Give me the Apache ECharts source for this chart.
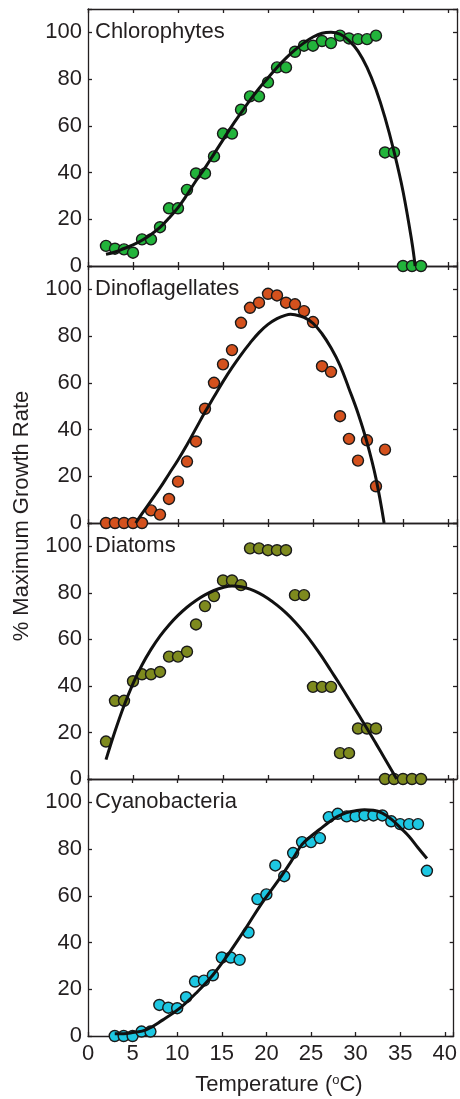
<!DOCTYPE html>
<html>
<head>
<meta charset="utf-8">
<title>Growth rate vs temperature</title>
<script src="https://cdn.jsdelivr.net/npm/echarts@6/dist/echarts.min.js"></script>
<style>
  html, body { margin: 0; padding: 0; background: #fff; }
  #chart { width: 460px; height: 1099px; }
</style>
</head>
<body>
<div id="chart"></div>
<script>
// ---- data ----
const panelNames = ['Chlorophytes', 'Dinoflagellates', 'Diatoms', 'Cyanobacteria'];

const chloroTemp = [2,3,4,5,6,7,8,9,10,11,12,13,14,15,16,17,18,19,20,21,22,23,24,25,26,27,28,29,30,31,32,33,34,35,36,37];
const chloroRate = [8.6,7.4,7.1,5.7,11.4,11.4,16.6,24.7,24.7,32.6,39.6,39.6,46.9,56.7,56.7,66.9,72.6,72.6,78.6,85,85,91.7,94.3,94.3,96.3,95.4,98.6,97.4,97.1,97.1,98.6,48.6,48.6,0,0,0];
const chloroFit = [[2,5],[3,6],[4,7.5],[5,9],[6,11],[7,13.5],[8,16.5],[9,20.5],[10,25],[11,30.5],[12,36.5],[13,42],[14,48],[15,54],[16,60],[17,65.5],[18,71],[19,76],[20,80.5],[21,85],[22,89],[23,92.5],[24,95.5],[25,98],[26,99.6],[27,100],[28,99.2],[29,96.5],[30,92],[31,85],[32,75.5],[33,63.5],[34,49],[35,32],[36,10],[36.35,0]];

const dinoTemp = [2,3,4,5,6,7,8,9,10,11,12,13,14,15,16,17,18,19,20,21,22,23,24,25,26,27,28,29,30,31,32,33];
const dinoRate = [0,0,0,0,0,5.4,3.6,10.3,17.7,26.3,34.9,48.9,60,67.9,74,85.7,92.1,94.3,98.1,97.4,94.3,93.6,90.7,86,67.1,64.7,45.7,36,26.7,35.4,15.7,31.4];
const dinoFit = [[5.3,0],[6,4],[7,9.5],[8,15],[9,21],[10,27],[11,33.5],[12,40.5],[13,47.5],[14,54],[15,60.5],[16,66.5],[17,72],[18,77],[19,81.5],[20,85],[21,87.5],[22,89],[22.5,89.3],[23,89.1],[24,88],[25,85.5],[26,81],[27,75],[28,67.5],[29,57.5],[30,47],[31,34.5],[32,19],[32.9,0]];

const diatomTemp = [2,3,4,5,6,7,8,9,10,11,12,13,14,15,16,17,18,19,20,21,22,23,24,25,26,27,28,29,30,31,32,33,34,35,36,37];
const diatomRate = [16.1,33.6,33.6,42,45,45,46,52.6,52.6,54.7,66.4,74.3,78.6,85.3,85.3,83.3,99.1,99.1,98.3,98.3,98.3,79,79,39.6,39.6,39.6,11.1,11.1,21.7,21.7,21.7,0,0,0,0,0];
const diatomFit = [[2,8.3],[3,20.5],[4,31.5],[5,41],[6,49],[7,55.7],[8,61.4],[9,66.2],[10,70.3],[11,73.8],[12,76.7],[13,79.1],[14,81],[15,82.3],[16,82.9],[17,82.6],[18,81.6],[19,79.9],[20,77.6],[21,74.7],[22,71.4],[23,67.5],[24,63],[25,58],[26,52.5],[27,46.5],[28,40.5],[29,34.3],[30,28],[31,21.7],[32,15.2],[33,8.6],[34.3,0]];

const cyanoTemp = [3,4,5,6,7,8,9,10,11,12,13,14,15,16,17,18,19,20,21,22,23,24,25,26,27,28,29,30,31,32,33,34,35,36,37,38];
const cyanoRate = [0,0,0,1.9,1.9,13.3,12.1,11.9,16.6,23.3,23.7,26,33.6,33.6,32.6,44.3,58.6,60.6,73,68.4,78.3,83,83,84.7,93.7,95.1,94,94,94.4,94.4,94.4,91.9,90.7,90.7,90.7,70.7];
const cyanoFit = [[3,1],[4,1],[5,1.5],[6.5,2.6],[8.4,6.9],[10.3,11.9],[12.1,18.3],[14,26.1],[15.8,35.4],[17.7,46.2],[19.5,56.9],[21.4,66.9],[23,76],[24,82],[25,85.5],[26,88.5],[27,91.5],[28,94],[29,95.6],[30,96.4],[31,96.8],[32,96.6],[33,95.4],[34,92.8],[35,89.2],[36,85.4],[37,80.6],[38,76]];

const panelTemps = [chloroTemp, dinoTemp, diatomTemp, cyanoTemp];
const panelRates = [chloroRate, dinoRate, diatomRate, cyanoRate];
const panelFits = [chloroFit, dinoFit, diatomFit, cyanoFit];
const panelColors = ['#22b43b', '#d4511d', '#7e8a1e', '#1dc7e2'];

// ---- layout ----
const FONT = 'Liberation Sans, Arial, Helvetica, sans-serif';
const INK = '#231f20';
const gridLeft = 88;
const gridWidth = 369;
const gridTops = [9, 266, 523, 779];
const gridHeights = [257, 257, 256, 257];

const chart = echarts.init(document.getElementById('chart'), null, { renderer: 'canvas' });

const axisLineStyle = { color: INK, width: 1.3 };

const grids = [];
const xAxes = [];
const yAxes = [];
const series = [];
const graphics = [];

panelNames.forEach((name, i) => {
  grids.push({ left: gridLeft, top: gridTops[i], width: gridWidth, height: gridHeights[i] });

  // bottom + top x axes (ticks inward on both)
  ['bottom', 'top'].forEach(pos => {
    xAxes.push({
      type: 'value', gridIndex: i, position: pos,
      min: 0, max: 41, interval: 5,
      axisLine: { show: true, onZero: false, lineStyle: axisLineStyle },
      axisTick: { show: true, inside: true, length: 4, lineStyle: axisLineStyle },
      axisLabel: {
        show: pos === 'bottom' && i === 3,
        fontSize: 22, fontFamily: FONT, color: INK, margin: 7,
        formatter: v => (v > 40 ? '' : String(v))
      },
      splitLine: { show: false }
    });
  });

  // left + right y axes
  ['left', 'right'].forEach(pos => {
    yAxes.push({
      type: 'value', gridIndex: i, position: pos,
      min: 0, max: 110, interval: 20,
      axisLine: { show: true, onZero: false, lineStyle: axisLineStyle },
      axisTick: { show: true, inside: true, length: 4, lineStyle: axisLineStyle },
      axisLabel: {
        show: pos === 'left',
        fontSize: 22, fontFamily: FONT, color: INK, margin: 6,
        formatter: v => (v > 100 ? '' : String(v))
      },
      splitLine: { show: false }
    });
  });

  series.push({
    type: 'scatter', name: name,
    xAxisIndex: i * 2, yAxisIndex: i * 2,
    data: panelTemps[i].map((t, k) => [t, panelRates[i][k]]),
    symbol: 'circle', symbolSize: 11,
    itemStyle: { color: panelColors[i], borderColor: '#1a1a1a', borderWidth: 1.4, opacity: 1 },
    z: 2, silent: true
  });

  series.push({
    type: 'line', name: name + ' fit',
    xAxisIndex: i * 2, yAxisIndex: i * 2,
    data: panelFits[i],
    smooth: 0.4, showSymbol: false,
    lineStyle: { color: '#111', width: 3 },
    z: 3, silent: true
  });

  graphics.push({
    type: 'text', x: 95, y: gridTops[i] + gridHeights[i] * 10 / 110,
    style: { text: name, fontSize: 22, fontFamily: FONT, fill: INK, verticalAlign: 'middle', align: 'left' }
  });
});

graphics.push({
  type: 'text', x: 22, y: 516, rotation: Math.PI / 2,
  style: { text: '% Maximum Growth Rate', fontSize: 22, fontFamily: FONT, fill: INK, align: 'center', verticalAlign: 'middle' }
});

graphics.push({
  type: 'text', x: 279, y: 1085,
  style: {
    text: '{a|Temperature (}{b|o}{a|C)}',
    align: 'center', verticalAlign: 'middle',
    rich: {
      a: { fontSize: 22, fontFamily: FONT, fill: INK, color: INK },
      b: { fontSize: 13, fontFamily: FONT, fill: INK, color: INK, verticalAlign: 'top' }
    }
  }
});

chart.setOption({
  animation: false,
  backgroundColor: '#fff',
  grid: grids,
  xAxis: xAxes,
  yAxis: yAxes,
  series: series,
  graphic: graphics
});
</script>
</body>
</html>
